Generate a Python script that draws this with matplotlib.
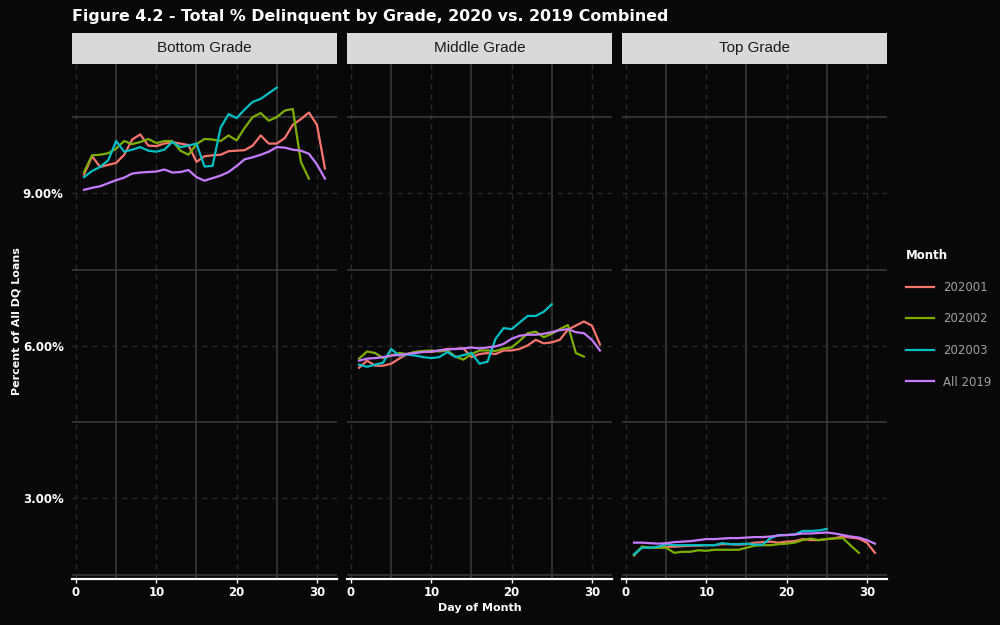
import matplotlib
matplotlib.use("Agg")
import matplotlib.pyplot as plt
from matplotlib.lines import Line2D
from matplotlib.ticker import FuncFormatter

# ---- data (percent of all DQ loans by day of month)
days = [1, 2, 3, 4, 5, 6, 7, 8, 9, 10, 11, 12, 13, 14, 15, 16,
        17, 18, 19, 20, 21, 22, 23, 24, 25, 26, 27, 28, 29, 30, 31]
grades = ["Bottom Grade", "Middle Grade", "Top Grade"]
months = ["202001", "202002", "202003", "All 2019"]

bottom_202001 = [9.37, 9.73, 9.52, 9.56, 9.60, 9.76, 10.06, 10.16, 9.94, 9.93, 9.98,
                 10.01, 9.98, 9.95, 9.62, 9.73, 9.75, 9.76, 9.83, 9.84, 9.85, 9.94,
                 10.14, 9.98, 9.98, 10.09, 10.35, 10.46, 10.59, 10.35, 9.49]
bottom_202002 = [9.42, 9.75, 9.76, 9.79, 9.88, 10.03, 9.97, 10.01, 10.07, 9.99, 10.03,
                 10.03, 9.84, 9.76, 9.97, 10.07, 10.06, 10.03, 10.14, 10.04, 10.29,
                 10.50, 10.58, 10.43, 10.50, 10.63, 10.66, 9.62, 9.29]
bottom_202003 = [9.32, 9.44, 9.52, 9.65, 10.03, 9.82, 9.86, 9.91, 9.84, 9.82, 9.86,
                 10.01, 9.91, 9.94, 9.98, 9.53, 9.54, 10.29, 10.56, 10.48, 10.65,
                 10.80, 10.86, 10.97, 11.08]
bottom_2019 = [9.07, 9.11, 9.14, 9.20, 9.26, 9.31, 9.39, 9.41, 9.42, 9.43, 9.47,
               9.41, 9.42, 9.46, 9.32, 9.25, 9.30, 9.35, 9.42, 9.54, 9.67, 9.71,
               9.76, 9.82, 9.91, 9.90, 9.86, 9.84, 9.78, 9.57, 9.29]

middle_202001 = [5.57, 5.71, 5.61, 5.61, 5.65, 5.75, 5.84, 5.88, 5.89, 5.88, 5.91,
                 5.94, 5.94, 5.95, 5.78, 5.84, 5.86, 5.84, 5.91, 5.91, 5.94, 6.01,
                 6.12, 6.05, 6.07, 6.12, 6.32, 6.40, 6.48, 6.40, 6.03]
middle_202002 = [5.75, 5.89, 5.86, 5.76, 5.81, 5.86, 5.84, 5.88, 5.90, 5.91, 5.89,
                 5.91, 5.79, 5.73, 5.84, 5.91, 5.91, 5.90, 5.95, 5.97, 6.10, 6.25,
                 6.28, 6.17, 6.24, 6.33, 6.41, 5.86, 5.79]
middle_202003 = [5.63, 5.59, 5.63, 5.67, 5.94, 5.81, 5.83, 5.81, 5.78, 5.76, 5.78,
                 5.88, 5.78, 5.82, 5.86, 5.65, 5.69, 6.14, 6.35, 6.33, 6.46, 6.59,
                 6.59, 6.67, 6.82]
middle_2019 = [5.71, 5.75, 5.76, 5.78, 5.81, 5.82, 5.84, 5.86, 5.88, 5.89, 5.91,
               5.93, 5.94, 5.95, 5.97, 5.95, 5.97, 5.99, 6.04, 6.14, 6.20, 6.22,
               6.22, 6.24, 6.27, 6.31, 6.33, 6.27, 6.25, 6.12, 5.91]

top_202001 = [1.88, 2.05, 2.03, 2.03, 2.05, 2.05, 2.06, 2.07, 2.07, 2.08, 2.08,
              2.10, 2.10, 2.09, 2.10, 2.13, 2.14, 2.15, 2.13, 2.15, 2.16, 2.20,
              2.18, 2.18, 2.20, 2.22, 2.25, 2.23, 2.21, 2.13, 1.93]
top_202002 = [1.89, 2.05, 2.03, 2.03, 2.03, 1.93, 1.95, 1.95, 1.98, 1.97, 1.99,
              1.99, 1.99, 1.99, 2.03, 2.07, 2.08, 2.08, 2.10, 2.11, 2.13, 2.18,
              2.21, 2.18, 2.20, 2.21, 2.22, 2.07, 1.93]
top_202003 = [1.90, 2.03, 2.03, 2.05, 2.10, 2.08, 2.08, 2.08, 2.08, 2.08, 2.08,
              2.12, 2.10, 2.10, 2.11, 2.09, 2.09, 2.22, 2.28, 2.28, 2.29, 2.36,
              2.36, 2.37, 2.40]
top_2019 = [2.13, 2.13, 2.12, 2.11, 2.12, 2.14, 2.15, 2.16, 2.18, 2.20, 2.20,
            2.21, 2.22, 2.22, 2.23, 2.24, 2.24, 2.25, 2.27, 2.28, 2.29, 2.31,
            2.31, 2.32, 2.33, 2.31, 2.28, 2.25, 2.23, 2.18, 2.11]

panel_data = {
    "Bottom Grade": [bottom_202001, bottom_202002, bottom_202003, bottom_2019],
    "Middle Grade": [middle_202001, middle_202002, middle_202003, middle_2019],
    "Top Grade": [top_202001, top_202002, top_202003, top_2019],
}

colors = ["#F8766D", "#7CAE00", "#00BFC4", "#C77CFF"]
bg = "#080808"

fig = plt.figure(figsize=(10, 6.25), dpi=100, facecolor=bg)

lefts = [0.072, 0.347, 0.622]
width = 0.265
bottom = 0.074
height = 0.824

for i, grade in enumerate(grades):
    ax = fig.add_axes([lefts[i], bottom, width, height], facecolor=bg)
    for series, c in zip(panel_data[grade], colors):
        ax.plot(days[:len(series)], series, color=c, lw=1.6, zorder=3)

    ax.set_xlim(-0.5, 32.5)
    ax.set_ylim(1.42, 11.55)
    ax.set_xticks([0, 10, 20, 30])
    ax.set_xticks([5, 15, 25], minor=True)
    ax.set_yticks([3, 6, 9])
    ax.set_yticks([1.5, 4.5, 7.5, 10.5], minor=True)
    ax.grid(which="major", color="#2c2c2c", lw=0.9, ls=(0, (4, 4)))
    ax.grid(which="minor", color="#3c3c3c", lw=1.1, ls="-")
    ax.set_axisbelow(True)

    for s in ["top", "right", "left"]:
        ax.spines[s].set_visible(False)
    ax.spines["bottom"].set_color("white")
    ax.spines["bottom"].set_linewidth(1.6)

    ax.tick_params(axis="x", which="major", colors="white", length=3, width=1,
                   labelsize=8.5, pad=2)
    ax.tick_params(axis="y", which="major", length=0, labelsize=8.5,
                   labelcolor="white", pad=6)
    ax.tick_params(which="minor", length=0)
    for lab in ax.get_xticklabels():
        lab.set_fontweight("bold")
    if i == 0:
        ax.yaxis.set_major_formatter(FuncFormatter(lambda v, p: f"{v:.2f}%"))
        for lab in ax.get_yticklabels():
            lab.set_fontweight("bold")
        ax.set_ylabel("Percent of All DQ Loans", color="white", fontsize=8,
                      fontweight="bold", labelpad=1)
    else:
        ax.set_yticklabels([])
    if i == 1:
        ax.set_xlabel("Day of Month", color="white", fontsize=8,
                      fontweight="bold", labelpad=3)

    # facet strip
    sax = fig.add_axes([lefts[i], bottom + height, width, 0.049],
                       facecolor="#d9d9d9")
    sax.set_xticks([])
    sax.set_yticks([])
    for s in sax.spines.values():
        s.set_visible(False)
    sax.text(0.5, 0.5, grade, ha="center", va="center", fontsize=11,
             family="Liberation Sans", color="#1a1a1a")

fig.text(0.072, 0.973, "Figure 4.2 - Total % Delinquent by Grade, 2020 vs. 2019 Combined",
         color="white", fontsize=11.4, fontweight="bold", ha="left", va="center")

handles = [Line2D([], [], color=c, lw=1.6) for c in colors]
leg = fig.legend(handles, months, loc="upper left", bbox_to_anchor=(0.895, 0.618),
                 frameon=False, title="Month", labelspacing=1.57, handlelength=2.4,
                 handletextpad=0.8, fontsize=8.5, alignment="left")
leg.get_title().set_color("white")
leg.get_title().set_fontweight("bold")
leg.get_title().set_fontsize(8.5)
for t in leg.get_texts():
    t.set_color("#a0a0a0")

fig.savefig("out.png", dpi=100, facecolor=bg)
